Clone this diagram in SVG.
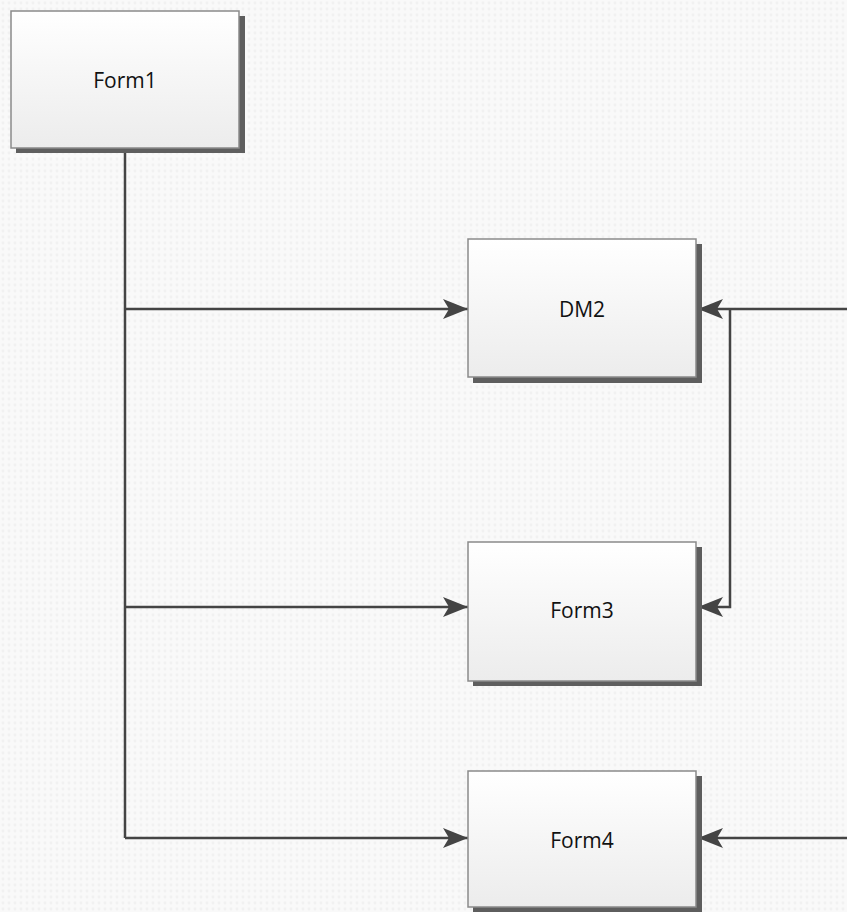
<svg xmlns="http://www.w3.org/2000/svg" width="847" height="912" viewBox="0 0 847 912">
<style>
.box{fill:url(#g);stroke:#8a8a8a;stroke-width:1.5}
.sh{fill:#5e5e5e}
.lbl{font-family:"Open Sans","Liberation Sans",sans-serif;font-size:21px;fill:#111;text-anchor:middle;dominant-baseline:central}
.ln{fill:none;stroke:#444;stroke-width:2.5}
</style>
<defs>
<linearGradient id="g" x1="0" y1="0" x2="0" y2="1">
<stop offset="0" stop-color="#ffffff"/>
<stop offset="1" stop-color="#ececec"/>
</linearGradient>
<pattern id="bg" width="6" height="6" patternUnits="userSpaceOnUse">
<rect width="6" height="6" fill="#f9f9f9"/>
<circle cx="3" cy="3" r="1.4" fill="#f1f1f1"/>
</pattern>
<marker id="ah" markerWidth="26" markerHeight="22" refX="25" refY="11" orient="auto" markerUnits="userSpaceOnUse">
<path d="M0,1 L25,11 L0,21 L6,11 Z" fill="#444"/>
</marker>
</defs>
<rect width="847" height="912" fill="url(#bg)"/>
<g id="connectors">
<path class="ln" d="M125,149 V838"/>
<path class="ln" d="M125,309 H468" marker-end="url(#ah)"/>
<path class="ln" d="M125,607 H468" marker-end="url(#ah)"/>
<path class="ln" d="M125,838 H468" marker-end="url(#ah)"/>
<path class="ln" d="M847,309 H698" marker-end="url(#ah)"/>
<path class="ln" d="M730,309 V607 H698" marker-end="url(#ah)"/>
<path class="ln" d="M847,838 H698" marker-end="url(#ah)"/>
</g>
<g id="form1">
<rect class="sh" x="16" y="16" width="229" height="137"/>
<rect class="box" x="11" y="11" width="228" height="137"/>
<text class="lbl" x="125" y="80">Form1</text>
</g>
<g id="dm2">
<rect class="sh" x="473" y="244" width="229" height="139"/>
<rect class="box" x="468" y="239" width="228" height="138"/>
<text class="lbl" x="582" y="309">DM2</text>
</g>
<g id="form3">
<rect class="sh" x="473" y="547" width="229" height="139"/>
<rect class="box" x="468" y="542" width="228" height="139"/>
<text class="lbl" x="582" y="610">Form3</text>
</g>
<g id="form4">
<rect class="sh" x="473" y="776" width="229" height="140"/>
<rect class="box" x="468" y="771" width="228" height="136"/>
<text class="lbl" x="582" y="840">Form4</text>
</g>
</svg>
